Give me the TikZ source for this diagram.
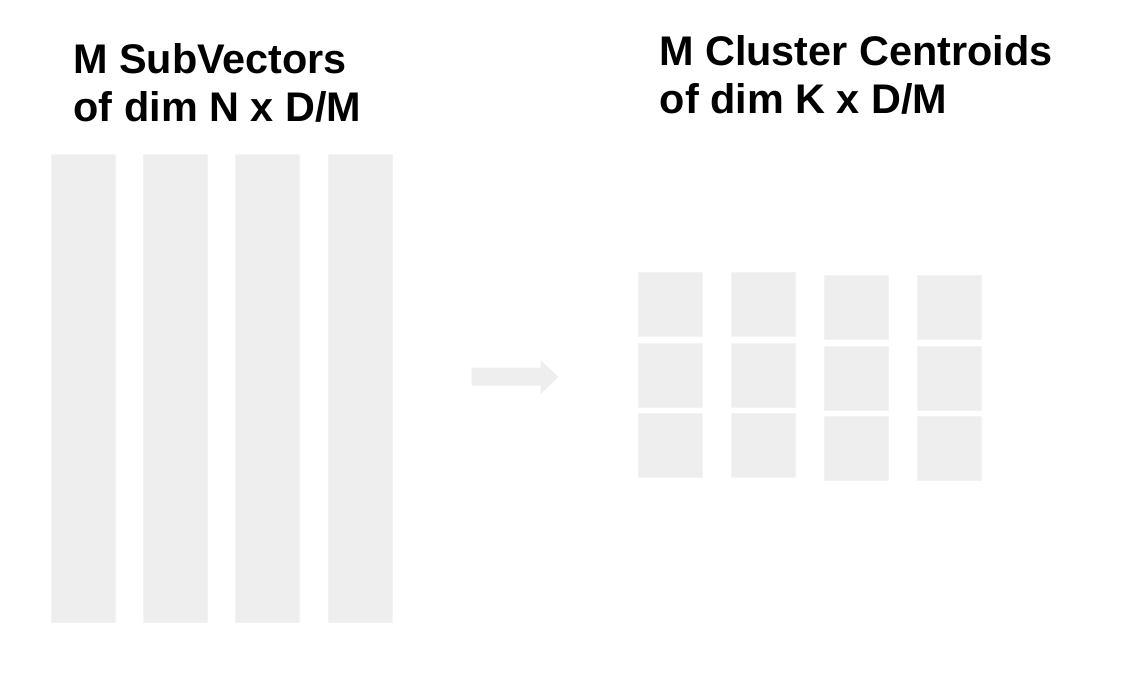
\documentclass[tikz,border=0pt]{standalone}
\usepackage{fontspec}
\setmainfont{Liberation Sans}
\usetikzlibrary{positioning}
\definecolor{boxgray}{HTML}{EEEEEE}
\definecolor{boxedge}{HTML}{F3F3F3}
\tikzset{
  titletext/.style={anchor=base west, inner sep=0pt, font=\bfseries\fontsize{41.4}{48}\selectfont},
  bar/.style={anchor=north west, inner sep=0pt, fill=boxgray, draw=boxedge, line width=0.8pt, minimum width=64pt, minimum height=468pt},
  cell/.style={anchor=north west, inner sep=0pt, fill=boxgray, draw=boxedge, line width=0.8pt, minimum width=64pt, minimum height=64pt},
  blockarrow/.style={fill=boxgray, draw=none}
}
\begin{document}
\begin{tikzpicture}[x=1pt,y=-1pt]
\useasboundingbox (0,0) rectangle (1138,686);
% titles
\node[titletext] (t1a) at (73,73) {M SubVectors};
\node[titletext] (t1b) at (73.5,121) {of dim N x D/M};
\node[titletext] (t2a) at (659,65) {M Cluster Centroids};
\node[titletext] (t2b) at (659.5,113) {of dim K x D/M};
% subvector bars
\node[bar] (b1) at (51,154) {};
\node[bar] (b2) at (143,154) {};
\node[bar] (b3) at (235,154) {};
\node[bar] (b4) at (328,154) {};
% arrow
\path[blockarrow] (471.5,367.5) -- (540.5,367.5) -- (540.5,360) -- (558.5,377) -- (540.5,394) -- (540.5,385.5) -- (471.5,385.5) -- cycle;
% centroid cells
\foreach \c/\x/\yo in {1/638/272, 2/731/272, 3/824/275, 4/917/275}{
  \foreach \r/\dy in {1/0, 2/70.5, 3/141}{
    \node[cell] (c\c\r) at (\x,\yo+\dy) {};
  }
}
\end{tikzpicture}
\end{document}
